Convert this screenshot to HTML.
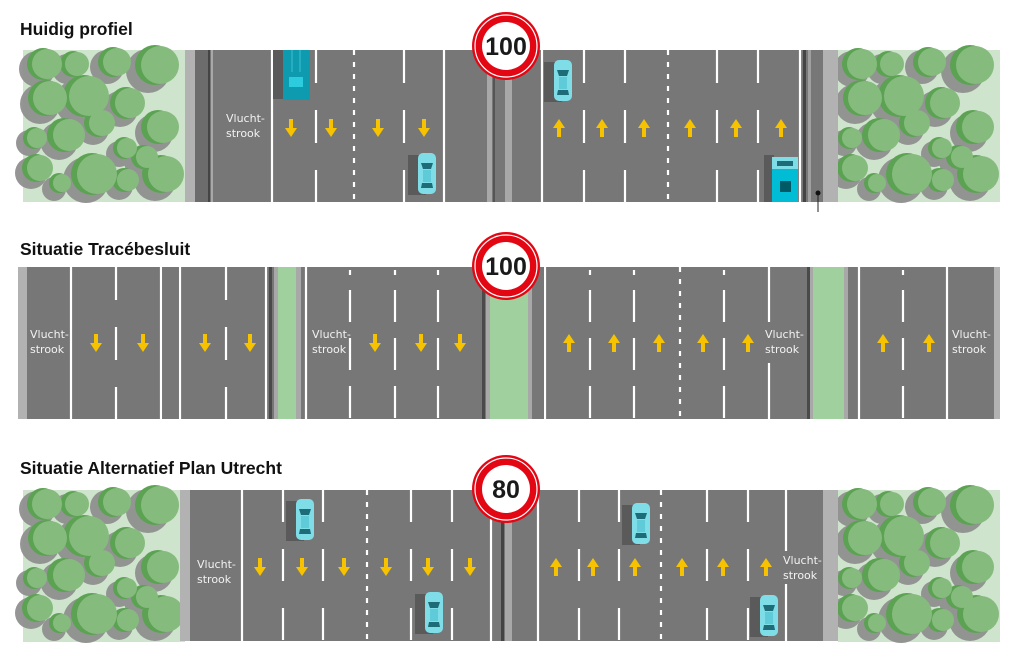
<!DOCTYPE html>
<html><head><meta charset="utf-8"><style>
html,body{margin:0;padding:0;background:#fff;}
svg{display:block;}
.t{font-family:"Liberation Sans",sans-serif;font-weight:bold;font-size:17.5px;fill:#111;}
.v{font-family:"DejaVu Sans","Liberation Sans",sans-serif;font-size:11px;fill:#f2f2f2;}
.s{font-family:"Liberation Sans",sans-serif;font-weight:bold;font-size:25px;fill:#1a1a1a;}
</style></head><body>
<svg width="1024" height="662" viewBox="0 0 1024 662" xmlns="http://www.w3.org/2000/svg">
<defs>
<g id="trees">
<rect x="23" y="50" width="162" height="152" fill="#cfe4cd"/>
<g fill="#8f908f" opacity="0.95">
<circle cx="37" cy="69" r="18"/><circle cx="67" cy="69" r="15"/><circle cx="107" cy="67" r="17"/><circle cx="148" cy="71" r="22"/>
<circle cx="40" cy="104" r="20"/><circle cx="78" cy="102" r="23"/><circle cx="120" cy="109" r="18"/><circle cx="154" cy="133" r="19"/>
<circle cx="29" cy="143" r="13"/><circle cx="59" cy="141" r="19"/><circle cx="93" cy="129" r="16"/>
<circle cx="119" cy="154" r="13"/><circle cx="138" cy="162" r="14"/>
<circle cx="31" cy="173" r="16"/><circle cx="54" cy="189" r="12"/><circle cx="86" cy="180" r="23"/><circle cx="119" cy="186" r="14"/><circle cx="155" cy="180" r="21"/>
</g>
<g fill="#5ca253">
<circle cx="43" cy="64" r="16"/><circle cx="73" cy="64" r="13"/><circle cx="113" cy="62" r="15"/><circle cx="155" cy="65" r="20"/>
<circle cx="46" cy="98" r="18"/><circle cx="84" cy="96" r="21"/><circle cx="126" cy="103" r="16"/><circle cx="158" cy="127" r="17"/>
<circle cx="34" cy="138" r="11"/><circle cx="64" cy="135" r="17"/><circle cx="98" cy="123" r="14"/>
<circle cx="124" cy="148" r="11"/><circle cx="143" cy="157" r="12"/>
<circle cx="36" cy="168" r="14"/><circle cx="59" cy="183" r="10"/><circle cx="92" cy="174" r="21"/><circle cx="124" cy="180" r="12"/><circle cx="161" cy="174" r="19"/>
</g>
<g fill="#86bb7e">
<circle cx="47" cy="64" r="15"/><circle cx="77" cy="64" r="12"/><circle cx="117" cy="62" r="14"/><circle cx="160" cy="65" r="19"/>
<circle cx="50" cy="98" r="17"/><circle cx="89" cy="96" r="20"/><circle cx="130" cy="103" r="15"/><circle cx="163" cy="127" r="16"/>
<circle cx="37" cy="138" r="10"/><circle cx="69" cy="135" r="16"/><circle cx="102" cy="123" r="13"/>
<circle cx="127" cy="148" r="10"/><circle cx="147" cy="157" r="11"/>
<circle cx="40" cy="168" r="13"/><circle cx="62" cy="183" r="9"/><circle cx="97" cy="174" r="20"/><circle cx="128" cy="180" r="11"/><circle cx="166" cy="174" r="18"/>
</g>
</g>
<g id="ad"><rect x="-2" y="0" width="4" height="11" fill="#f7c300"/><polygon points="-6,9 6,9 0,18" fill="#f7c300"/></g>
<g id="au"><rect x="-2" y="7" width="4" height="11" fill="#f7c300"/><polygon points="-6,9 6,9 0,0" fill="#f7c300"/></g>
<g id="car"><rect x="-10" y="2" width="18" height="40" fill="#5a5a5a"/>
<rect x="0" y="0" width="18" height="41" rx="5" fill="#7fdde8"/>
<path d="M3 10 L15 10 L13 16 L5 16 Z" fill="#1e6c77"/>
<path d="M4 30 L14 30 L15 35 L3 35 Z" fill="#1e6c77"/>
<rect x="5" y="17" width="8" height="12" fill="#5fcbd8"/></g>
<g id="sign"><circle r="34" fill="#e30613"/><circle r="31" fill="none" stroke="#fff" stroke-width="1.2"/><circle r="24" fill="#fff"/></g>
</defs>

<!-- ===== Section 1 ===== -->
<text class="t" x="20" y="35">Huidig profiel</text>
<use href="#trees"/>
<use href="#trees" transform="translate(815,0)"/>
<rect x="185" y="50" width="10" height="152" fill="#b2b2b2"/>
<rect x="195" y="50" width="628" height="152" fill="#777"/>
<rect x="195" y="50" width="14" height="152" fill="#6c6c6c"/>
<rect x="208" y="50" width="2" height="152" fill="#444"/>
<rect x="211" y="50" width="2" height="152" fill="#a8a8a8"/>
<g stroke="#fff" stroke-width="2.2">
<line x1="272" y1="50" x2="272" y2="202"/>
<line x1="316" y1="50" x2="316" y2="202" stroke-dasharray="33 27"/>
<line x1="354" y1="50" x2="354" y2="202" stroke-dasharray="5 7"/>
<line x1="404" y1="50" x2="404" y2="202" stroke-dasharray="33 27"/>
<line x1="444" y1="50" x2="444" y2="202"/>
<line x1="542" y1="50" x2="542" y2="202"/>
<line x1="584" y1="50" x2="584" y2="202" stroke-dasharray="33 27"/>
<line x1="625" y1="50" x2="625" y2="202" stroke-dasharray="33 27"/>
<line x1="668" y1="50" x2="668" y2="202" stroke-dasharray="5 7"/>
<line x1="717" y1="50" x2="717" y2="202" stroke-dasharray="33 27"/>
<line x1="758" y1="50" x2="758" y2="202" stroke-dasharray="33 27"/>
<line x1="800" y1="50" x2="800" y2="202"/>
</g>
<rect x="446" y="50" width="94" height="152" fill="#777"/>
<rect x="487" y="50" width="5" height="152" fill="#a8a8a8"/>
<rect x="493" y="50" width="2" height="152" fill="#555"/>
<rect x="505" y="50" width="7" height="152" fill="#a8a8a8"/>
<rect x="803" y="50" width="3" height="152" fill="#444"/>
<rect x="808" y="50" width="3" height="152" fill="#a0a0a0"/>
<rect x="823" y="50" width="15" height="152" fill="#b2b2b2"/>
<line x1="818" y1="193" x2="818" y2="212" stroke="#222" stroke-width="1"/>
<circle cx="818" cy="193" r="2.5" fill="#111"/>
<text class="v" x="226" y="122">Vlucht-</text><text class="v" x="226" y="137">strook</text>
<use href="#ad" x="291" y="119"/><use href="#ad" x="331" y="119"/><use href="#ad" x="378" y="119"/><use href="#ad" x="424" y="119"/>
<use href="#au" x="559" y="119"/><use href="#au" x="602" y="119"/><use href="#au" x="644" y="119"/><use href="#au" x="690" y="119"/><use href="#au" x="736" y="119"/><use href="#au" x="781" y="119"/>
<rect x="273" y="50" width="12" height="49" fill="#5a5a5a"/>
<rect x="283" y="50" width="27" height="50" fill="#0e9aaf"/>
<line x1="292" y1="50" x2="292" y2="72" stroke="#3fc0cf"/><line x1="300" y1="50" x2="300" y2="72" stroke="#3fc0cf"/>
<rect x="289" y="77" width="14" height="10" fill="#2ccbdd"/>
<use href="#car" x="418" y="153"/>
<use href="#car" x="554" y="60"/>
<rect x="764" y="155" width="10" height="47" fill="#5a5a5a"/>
<rect x="772" y="157" width="26" height="45" fill="#00bcd4"/>
<rect x="772" y="157" width="26" height="12" fill="#7fdde8"/>
<rect x="777" y="161" width="16" height="5" fill="#1e6c77"/>
<rect x="780" y="181" width="11" height="11" fill="#005a66"/>

<use href="#sign" x="506" y="46"/>
<text class="s" x="506" y="55" text-anchor="middle">100</text>

<!-- ===== Section 2 ===== -->
<text class="t" x="20" y="255">Situatie Tracébesluit</text>
<rect x="18" y="267" width="982" height="152" fill="#777"/>
<rect x="18" y="267" width="9" height="152" fill="#b2b2b2"/>
<rect x="994" y="267" width="6" height="152" fill="#b2b2b2"/>
<g stroke="#fff" stroke-width="2.2">
<line x1="71" y1="267" x2="71" y2="419"/>
<line x1="116" y1="267" x2="116" y2="419" stroke-dasharray="33 27"/>
<line x1="161" y1="267" x2="161" y2="419"/>
<line x1="180" y1="267" x2="180" y2="419"/>
<line x1="226" y1="267" x2="226" y2="419" stroke-dasharray="33 27"/>
<line x1="266" y1="267" x2="266" y2="419"/>
<line x1="306" y1="267" x2="306" y2="419"/>
<line x1="545" y1="267" x2="545" y2="419"/>
<line x1="859" y1="267" x2="859" y2="419"/>
<line x1="947" y1="267" x2="947" y2="419"/>
<line x1="680" y1="267" x2="680" y2="419" stroke-dasharray="5 7"/>
<line x1="769" y1="267" x2="769" y2="322"/><line x1="769" y1="363" x2="769" y2="419"/>
</g>
<rect x="162.1" y="267" width="16.8" height="152" fill="#777"/>
<g stroke="#fff" stroke-width="2.2" stroke-dasharray="32 16">
<line x1="350" y1="290" x2="350" y2="419"/><line x1="395" y1="290" x2="395" y2="419"/><line x1="438" y1="290" x2="438" y2="419"/>
<line x1="590" y1="290" x2="590" y2="419"/><line x1="634" y1="290" x2="634" y2="419"/><line x1="724" y1="290" x2="724" y2="419"/>
<line x1="903" y1="290" x2="903" y2="419"/>
</g>
<g stroke="#fff" stroke-width="2.2">
<line x1="350" y1="270" x2="350" y2="275"/><line x1="395" y1="270" x2="395" y2="275"/><line x1="438" y1="270" x2="438" y2="275"/>
<line x1="590" y1="270" x2="590" y2="275"/><line x1="634" y1="270" x2="634" y2="275"/><line x1="724" y1="270" x2="724" y2="275"/><line x1="903" y1="270" x2="903" y2="275"/>
</g>
<rect x="269" y="267" width="3" height="152" fill="#4a4a4a"/>
<rect x="274" y="267" width="4" height="152" fill="#a8a8a8"/>
<rect x="278" y="267" width="18" height="152" fill="#9fd09e"/>
<rect x="296" y="267" width="5" height="152" fill="#a8a8a8"/>
<rect x="482" y="267" width="3" height="152" fill="#4a4a4a"/>
<rect x="486" y="267" width="4" height="152" fill="#a8a8a8"/>
<rect x="490" y="267" width="38" height="152" fill="#9fd09e"/>
<rect x="528" y="267" width="4" height="152" fill="#a8a8a8"/>
<rect x="534" y="267" width="10" height="152" fill="#777"/>
<rect x="807" y="267" width="3" height="152" fill="#4a4a4a"/>
<rect x="810" y="267" width="3" height="152" fill="#a8a8a8"/>
<rect x="813" y="267" width="31" height="152" fill="#9fd09e"/>
<rect x="844" y="267" width="4" height="152" fill="#a8a8a8"/>
<rect x="849" y="267" width="8" height="152" fill="#777"/>
<text class="v" x="30" y="338">Vlucht-</text><text class="v" x="30" y="353">strook</text>
<text class="v" x="312" y="338">Vlucht-</text><text class="v" x="312" y="353">strook</text>
<text class="v" x="765" y="338">Vlucht-</text><text class="v" x="765" y="353">strook</text>
<text class="v" x="952" y="338">Vlucht-</text><text class="v" x="952" y="353">strook</text>
<use href="#ad" x="96" y="334"/><use href="#ad" x="143" y="334"/><use href="#ad" x="205" y="334"/><use href="#ad" x="250" y="334"/>
<use href="#ad" x="375" y="334"/><use href="#ad" x="421" y="334"/><use href="#ad" x="460" y="334"/>
<use href="#au" x="569" y="334"/><use href="#au" x="614" y="334"/><use href="#au" x="659" y="334"/><use href="#au" x="703" y="334"/><use href="#au" x="748" y="334"/>
<use href="#au" x="883" y="334"/><use href="#au" x="929" y="334"/>
<use href="#sign" x="506" y="266"/>
<text class="s" x="506" y="275" text-anchor="middle">100</text>

<!-- ===== Section 3 ===== -->
<text class="t" x="20" y="474">Situatie Alternatief Plan Utrecht</text>
<use href="#trees" transform="translate(0,440)"/>
<use href="#trees" transform="translate(815,440)"/>
<rect x="180" y="490" width="10" height="151" fill="#b2b2b2"/>
<rect x="190" y="490" width="633" height="151" fill="#777"/>
<rect x="823" y="490" width="15" height="151" fill="#b2b2b2"/>
<g stroke="#fff" stroke-width="2.2">
<line x1="242" y1="490" x2="242" y2="641"/>
<line x1="283" y1="490" x2="283" y2="641" stroke-dasharray="32 27"/>
<line x1="323" y1="490" x2="323" y2="641" stroke-dasharray="32 27"/>
<line x1="367" y1="490" x2="367" y2="641" stroke-dasharray="5 7"/>
<line x1="411" y1="490" x2="411" y2="641" stroke-dasharray="32 27"/>
<line x1="452" y1="490" x2="452" y2="641" stroke-dasharray="32 27"/>
<line x1="491" y1="490" x2="491" y2="641"/>
<line x1="538" y1="490" x2="538" y2="641"/>
<line x1="579" y1="490" x2="579" y2="641" stroke-dasharray="32 27"/>
<line x1="619" y1="490" x2="619" y2="641" stroke-dasharray="32 27"/>
<line x1="661" y1="490" x2="661" y2="641" stroke-dasharray="5 7"/>
<line x1="707" y1="490" x2="707" y2="641" stroke-dasharray="32 27"/>
<line x1="748" y1="490" x2="748" y2="641" stroke-dasharray="32 27"/>
<line x1="786" y1="490" x2="786" y2="551"/><line x1="786" y1="584" x2="786" y2="641"/>
</g>
<rect x="501" y="490" width="3" height="151" fill="#444"/>
<rect x="505" y="490" width="7" height="151" fill="#a8a8a8"/>
<text class="v" x="197" y="568">Vlucht-</text><text class="v" x="197" y="583">strook</text>
<text class="v" x="783" y="564">Vlucht-</text><text class="v" x="783" y="579">strook</text>
<use href="#ad" x="260" y="558"/><use href="#ad" x="302" y="558"/><use href="#ad" x="344" y="558"/><use href="#ad" x="386" y="558"/><use href="#ad" x="428" y="558"/><use href="#ad" x="470" y="558"/>
<use href="#au" x="556" y="558"/><use href="#au" x="593" y="558"/><use href="#au" x="635" y="558"/><use href="#au" x="682" y="558"/><use href="#au" x="723" y="558"/><use href="#au" x="766" y="558"/>
<use href="#car" x="296" y="499"/>
<use href="#car" x="425" y="592"/>
<use href="#car" x="632" y="503"/>
<use href="#car" x="760" y="595"/>
<use href="#sign" x="506" y="489"/>
<text class="s" x="506" y="498" text-anchor="middle">80</text>
</svg>
</body></html>
